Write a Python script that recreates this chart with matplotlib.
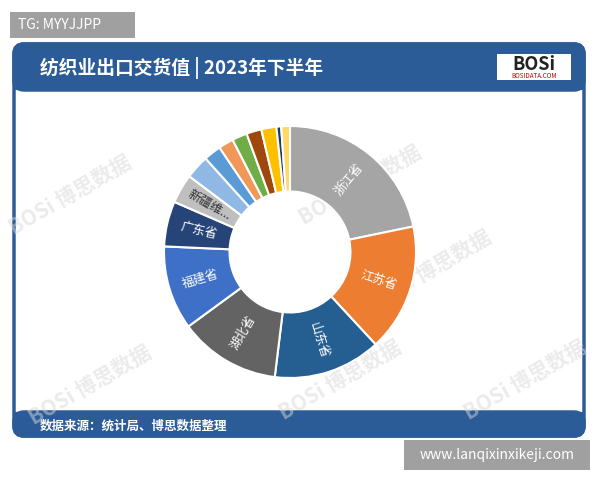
import matplotlib
matplotlib.use("Agg")
import matplotlib.pyplot as plt
from matplotlib.patches import FancyBboxPatch, Rectangle
import numpy as np

plt.rcParams['font.family'] = ['Noto Sans CJK SC', 'DejaVu Sans']

labels = ['浙江省', '江苏省', '山东省', '湖北省', '福建省', '广东省', '新疆维...',
          '', '', '', '', '', '', '', '']
values = [21.4, 16.1, 13.6, 12.8, 10.6, 5.7, 3.7, 3.0, 2.2, 1.9, 1.9, 1.9, 1.9, 0.6, 1.1]
colors = ['#a5a5a5', '#ed7d31', '#255e91', '#636363', '#3f70c8', '#264478', '#bfbfbf',
          '#8fb8e4', '#5b9bd5', '#f1975a', '#70ad47', '#9e480e', '#ffc000', '#1f3864', '#ffd966']
label_colors = ['white'] * 6 + ['#333333'] + ['white'] * 8
title = '纺织业出口交货值 | 2023年下半年'
source = '数据来源：统计局、博思数据整理'

fig = plt.figure(figsize=(6, 4.8), dpi=100)
W, H = 600, 480
bg = fig.add_axes([0, 0, 1, 1])
bg.set_xlim(0, W); bg.set_ylim(H, 0); bg.axis('off')

# card
bg.add_patch(FancyBboxPatch((14, 44), 570, 392, boxstyle='round,pad=0,rounding_size=10',
                            fc='white', ec='#2c5c97', lw=2.5))
bg.add_patch(FancyBboxPatch((14, 44), 570, 46, boxstyle='round,pad=0,rounding_size=10',
                            fc='#2c5c97', ec='#2c5c97', lw=2.5))
bg.add_patch(Rectangle((14, 75), 570, 15, fc='#2c5c97', ec='none'))
bg.add_patch(FancyBboxPatch((14, 412), 570, 24, boxstyle='round,pad=0,rounding_size=10',
                            fc='#2c5c97', ec='#2c5c97', lw=2.5))
bg.add_patch(Rectangle((14, 412), 570, 10, fc='#2c5c97', ec='none'))
bg.text(40, 68, title, color='white', fontsize=13.5, fontweight='bold', va='center')
bg.text(40, 426, source, color='white', fontsize=9, fontweight='bold', va='center')
# logo
bg.add_patch(Rectangle((497, 54), 74, 26, fc='white', ec='none'))
bg.text(534, 64, 'BOSi', color='#222222', fontsize=13, fontweight='bold', ha='center', va='center')
bg.text(534, 76, 'BOSIDATA.COM', color='#c00000', fontsize=4.5, ha='center', va='center')

# watermarks
for (x, y) in [(70, 195), (360, 185), (430, 270), (90, 385), (340, 380), (525, 380)]:
    bg.text(x, y, 'BOSi 博思数据', color='#d8d8d8', fontsize=15, fontweight='bold',
            rotation=30, ha='center', va='center', alpha=0.5)

# corner tags
bg.add_patch(Rectangle((10, 12), 125, 26, fc='#a0a0a0', ec='none'))
bg.text(18, 25, 'TG: MYYJJPP', color='white', fontsize=10, va='center')
bg.add_patch(Rectangle((404, 440), 186, 30, fc='#a0a0a0', ec='none'))
bg.text(497, 455, 'www.lanqixinxikeji.com', color='white', fontsize=10, ha='center', va='center')

# donut
cx, cy, r = 290, 252, 126
ax = fig.add_axes([(cx - r) / W, 1 - (cy + r) / H, 2 * r / W, 2 * r / H])
wedges, _ = ax.pie(values, colors=colors, startangle=90, counterclock=False,
                   wedgeprops=dict(width=0.52, edgecolor='white', linewidth=1.5),
                   radius=1)
ax.set_xlim(-1, 1); ax.set_ylim(-1, 1); ax.set_aspect('equal')
for w, lab, lc in zip(wedges, labels, label_colors):
    if not lab:
        continue
    ang = (w.theta1 + w.theta2) / 2
    rad = np.deg2rad(ang)
    rr = 0.74
    rot = ((ang + 180) % 360) - 180
    if rot > 90: rot -= 180
    if rot < -90: rot += 180
    ax.text(rr * np.cos(rad), rr * np.sin(rad), lab, color=lc, fontsize=9,
            rotation=rot, ha='center', va='center', rotation_mode='anchor')

fig.savefig('out.png', dpi=100)
